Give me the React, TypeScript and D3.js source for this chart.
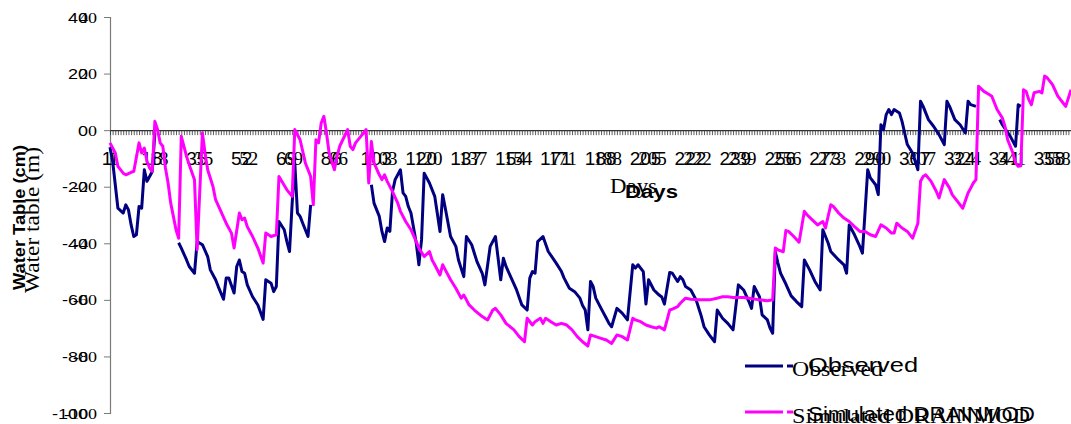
import React, { useEffect, useRef } from "react";
import * as d3 from "d3";

// Observed water table (cm) by day; null marks days without observations
const obsDays = [
  1, 2, 4, 6, 7, 8, 9, 10, 11, 12, 13, 14, 15, 16, 17, 18, 19,
  27, 28, 30, 31, 33, 34, 36, 38, 39, 41, 42, 44, 45, 46, 48, 49, 50, 51, 52, 53, 55, 57, 59,
  60, 62, 63, 64, 65, 67, 68, 69, 70, 71, 72, 73, 74, 76, 77, 78,
  100, 101, 103, 104, 105, 106, 107, 108, 109, 111, 112, 113, 114, 115, 117, 118, 119, 120,
  122, 124, 126, 127, 128, 130, 132, 133, 135, 136, 138, 139, 140, 142, 143, 145, 147, 149,
  150, 151, 153, 155, 157, 159, 160, 161, 162, 163, 165, 167, 170, 172, 173, 175, 177, 179,
  180, 181, 182, 183, 184, 185, 187, 189, 190, 191, 193, 195, 197, 199, 200, 201, 203, 204,
  205, 207, 209, 210, 211, 213, 214, 216, 217, 218, 219, 221, 223, 225, 226, 228, 230, 231,
  233, 235, 237, 239, 241, 243, 244, 245, 247, 248, 250, 251, 252, 253, 254, 255, 257, 259,
  261, 263, 264, 266, 268, 270, 271, 273, 274, 277, 279, 280, 281, 283, 285, 286, 288, 289,
  291, 292, 293, 294, 295, 296, 297, 298, 300, 301, 302, 303, 305, 307, 308, 309, 311, 313,
  315, 317, 318, 319, 321, 323, 325, 326, 327, 329, 330,
  338, 339, 342, 344, 345, 346,
];
const obsValues: (number | null)[] = [
  -6, -11, -27.6, -29.3, -26.4, -28.2, -33.5, -37.6, -37, -27, -27.6, -14, -18.1, -16.4, -14.6, -1, null,
  -39.8, -41.7, -45.9, -48.2, -50.6, -39.4, -40.5, -44.7, -49.4, -52.9, -55.3, -59.8, -52.3, -52.3, -57.6, -48.2, -45.9, -50, -50.6, -54.7, -58.9, -61.8, -66.9,
  -52.9, -54.1, -57.1, -55.3, -32.3, -35.2, -39.4, -42.9, -25.8, -11.6, -29.3, -30.5, -32.9, -37.6, -26.4, null,
  -19.3, -25.8, -30.5, -35.8, -39.4, -34.6, -35.8, -21.7, -17.5, -14, -22.2, -23.4, -27, -29.3, -39.9, -47.6, -38.8, -15.2,
  -18.7, -23.4, -35.8, -22.8, -27.6, -37.6, -41.1, -45.9, -51.8, -37.6, -40.5, -43.5, -46.5, -50.6, -54.7, -41.1, -37.6, -52.9,
  -45.3, -48.2, -52.3, -56.5, -61.8, -63.6, -52.3, -50, -50.6, -39.4, -37.6, -42.9, -47, -50, -52.3, -55.9, -57.1, -59.4,
  -62, -63.6, -70.6, -53.5, -55.3, -59.4, -63, -66.5, -68.3, -69.5, -63, -64.7, -67.1, -47.6, -48.8, -47.6, -50, -61.5,
  -52.9, -56.5, -58.3, -59, -61.5, -50.3, -50.6, -53.5, -51.8, -52.9, -55.3, -56.5, -60, -65.9, -69.5, -72.4, -74.8, -63.6,
  -66.5, -68.3, -70.6, -54.7, -56.5, -60.6, -63, -55.3, -58.9, -65.3, -67.1, -70, -71.8, -43, -47, -50.6, -54.4, -58.6,
  -60.6, -62.4, -45.9, -49.4, -53.5, -56.5, -35.2, -39.9, -42.9, -45.9, -47.6, -50.6, -33.5, -37, -41.1, -43.5, -14, -16.9,
  -19.3, -22.8, 1.9, 0.2, 5.5, 7.3, 5.5, 7.3, 6.1, 3.1, -1, -5.1, -8.1, -14, 10.2, 8.4, 3.7, 1.3,
  -1.6, -5.1, 10.2, 8.4, 3.7, 1.9, -1, 10.2, 9, 8.4, null,
  3.7, 1.9, -2.2, -5.7, 9, 8.4,
];

// DRAINMOD simulated water table (cm) by day
const simDays = [
  1, 3, 4, 6, 7, 9, 10, 12, 13, 14, 15, 16, 17, 18, 19, 20, 21, 22, 23, 24, 25, 26, 27, 28, 29,
  30, 31, 33, 34, 36, 37, 38, 40, 41, 43, 45, 47, 48, 50, 51, 52, 53, 55, 57, 59, 60, 62, 64, 65,
  68, 70, 71, 73, 75, 77, 78, 79, 80, 81, 82, 83, 84, 86, 87, 88, 91, 92, 93, 94, 96, 98, 99,
  100, 101, 103, 104, 105, 106, 108, 110, 111, 113, 115, 117, 118, 120, 122, 123, 124, 126, 127,
  128, 130, 132, 134, 135, 136, 137, 139, 142, 144, 146, 147, 149, 151, 154, 156, 158, 159, 161,
  162, 164, 165, 166, 168, 170, 172, 174, 176, 178, 180, 182, 183, 185, 187, 189, 191, 193, 195,
  197, 199, 200, 202, 204, 206, 208, 209, 211, 213, 214, 216, 217, 219, 221, 224, 228, 231, 233,
  235, 237, 241, 243, 247, 250, 252, 253, 254, 256, 257, 258, 260, 262, 264, 265, 267, 269, 271,
  272, 274, 275, 277, 279, 281, 283, 285, 287, 289, 291, 293, 295, 297, 298, 299, 301, 303, 305,
  307, 308, 309, 310, 312, 314, 315, 317, 319, 320, 322, 324, 326, 327, 328, 329, 330, 332, 334,
  335, 337, 339, 340, 341, 343, 344, 345, 346, 347, 348, 349, 350, 351, 353, 354, 355, 356, 358,
  360, 362, 363, 365,
];
const simValues = [
  -4.5, -8.1, -12.8, -15.2, -15.8, -14.9, -14.6, -4.5, -8.1, -6.3, -11, -13.4, -14.6, 3.1, 0.2, -4.5, -5.7, -13.4, -18.7, -25.8, -30.5, -35.2, -38.2, -2.2, -5.7,
  -9.3, -12.2, -17.5, -42.3, -1, -8.1, -14, -19.9, -24.6, -28.7, -32.9, -36.4, -41.7, -29.3, -31.7, -31.1, -34.1, -37.6, -41.7, -47, -36.4, -37.6, -37, -16.4,
  -21.1, -23.4, 0.2, -3.4, -11.6, -16.4, -26.4, -3.4, -4.5, 2.5, 4.9, -1, -8.1, -14, -9.3, -5.7, 0.2, -5.7, -6.9, -4.5, -2.2, 0.2, -18.7,
  -4, -11.6, -15.8, -17.5, -15.8, -18.1, -21.7, -25.8, -28.7, -32.3, -35.2, -39.4, -41.7, -44.7, -42.9, -45.9, -47.6, -51.2, -47.6,
  -49.4, -52.9, -55.9, -59.4, -58.3, -60, -61.8, -63.6, -65.9, -67.1, -63.6, -63, -65.3, -68.3, -70.6, -73, -74.8, -66.5, -68.9,
  -67.7, -66.5, -68.3, -66.5, -67.7, -68.9, -68.3, -68.9, -70.6, -73, -74.8, -76.3, -72.4, -73, -73.6, -74.2, -75.4, -72.4, -73,
  -74.2, -66.5, -67.1, -67.7, -68.9, -69.5, -70, -69.5, -70.6, -63.6, -63.3, -62.4, -61.2, -59.4, -59.8, -60, -60, -59.4, -58.9,
  -58.9, -59.2, -59.2, -59.4, -60, -60.3, -60, -41.7, -42.3, -43, -35.5, -35.8, -37.6, -39.6, -28.7, -29.9, -31.7, -33.5, -32.3,
  -34.6, -26.4, -27, -29.3, -31.1, -32.3, -34.1, -35.8, -35.8, -37, -37.6, -33.5, -34.6, -36.4, -36.4, -32.9, -34.6, -35.8, -38.2,
  -32.9, -18.1, -16.4, -15.8, -18.1, -21.7, -24, -17.5, -20.5, -22.8, -25.2, -27.6, -22.2, -20.5, -18.7, -17.5, 15.5, 13.7, 12.6,
  12, 7.3, 4.3, 1.3, -3.4, -8.1, -11.6, -12.8, -12.6, 14.3, 13.7, 10.8, 9, 13.2, 13.7, 13.2, 19.1, 18.5, 16.1,
  12, 9.6, 8.4, 14.3,
];

const yTicks = [-100, -80, -60, -40, -20, 0, 20, 40];
const dayLabels = [1, 18, 35, 52, 69, 86, 103, 120, 137, 154, 171, 188, 205, 222, 239, 256, 273, 290, 307, 324, 341, 358];
const seriesNames = ["Observed", "Simulated DRAINMOD"];
const seriesColors = ["#000080", "#FF00FF"];

const W = 1071;
const H = 424;
const SANS = "'Liberation Sans', Arial, sans-serif";
const SERIF = "'Liberation Serif', 'Times New Roman', serif";

type Pt = { d: number; v: number | null };

export default function App() {
  const ref = useRef<SVGSVGElement>(null);

  useEffect(() => {
    document.body.style.margin = "0";
    const svg = d3.select(ref.current);
    svg.selectAll("*").remove();

    const x = d3.scaleLinear().domain([1, 365]).range([110, 1071]);
    const y = d3.scaleLinear().domain([-100, 40]).range([413, 17]);

    // value axis
    const yAxis = svg.append("g").attr("transform", `translate(${x(1)},0)`)
      .call(d3.axisLeft(y).tickValues(yTicks).tickSize(6).tickFormat(() => ""));
    yAxis.select(".domain").attr("stroke", "#7a7a7a").attr("stroke-width", 1.2);
    yAxis.selectAll(".tick line").attr("stroke", "#7a7a7a");

    // day axis across the zero line, one tick per day
    const dayTicks = d3.range(1, 366);
    const xAxis = svg.append("g").attr("transform", `translate(0,${y(0)})`)
      .call(d3.axisBottom(x).tickValues(dayTicks).tickSize(5).tickSizeOuter(0).tickFormat(() => ""));
    xAxis.select(".domain").attr("stroke", "#333").attr("stroke-width", 1.2);
    xAxis.selectAll(".tick line").attr("stroke", "#333").attr("stroke-width", 0.8);

    // y tick labels, sans and serif copies
    const yl = svg.append("g");
    yTicks.forEach((t) => {
      yl.append("text")
        .attr("transform", `translate(88,${y(t) + 5.5}) scale(1.2,1)`)
        .attr("text-anchor", "end").attr("font-family", SANS).attr("font-size", 15)
        .attr("fill", "#000").text(String(t));
      yl.append("text")
        .attr("transform", `translate(97,${y(t) + 5.5}) scale(1.2,1)`)
        .attr("text-anchor", "end").attr("font-family", SERIF).attr("font-size", 15)
        .attr("fill", "#000").text(String(t));
    });

    // day labels, sans and serif copies
    const xl = svg.append("g");
    dayLabels.forEach((d) => {
      xl.append("text").attr("x", x(d) - 3).attr("y", 165)
        .attr("text-anchor", "middle").attr("font-family", SANS).attr("font-size", 19)
        .attr("fill", "#000").text(String(d));
      xl.append("text").attr("x", x(d) + 4).attr("y", 165)
        .attr("text-anchor", "middle").attr("font-family", SERIF).attr("font-size", 19)
        .attr("fill", "#000").text(String(d));
    });

    // axis titles
    svg.append("text").attr("x", 610).attr("y", 193)
      .attr("font-family", SERIF).attr("font-size", 21).attr("textLength", 47)
      .attr("lengthAdjust", "spacingAndGlyphs").text("Days");
    svg.append("text").attr("x", 625).attr("y", 198)
      .attr("font-family", SANS).attr("font-weight", "bold").attr("font-size", 18)
      .attr("textLength", 53).attr("lengthAdjust", "spacingAndGlyphs").text("Days");
    svg.append("text").attr("transform", "translate(25,217.5) rotate(-90)")
      .attr("text-anchor", "middle").attr("font-family", SANS).attr("font-weight", "bold")
      .attr("font-size", 17).attr("textLength", 145).attr("lengthAdjust", "spacingAndGlyphs")
      .text("Water Table (cm)");
    svg.append("text").attr("transform", "translate(39,220) rotate(-90)")
      .attr("text-anchor", "middle").attr("font-family", SERIF)
      .attr("font-size", 21).attr("textLength", 146).attr("lengthAdjust", "spacingAndGlyphs")
      .text("Water table (m)");

    // series
    const line = d3.line<Pt>()
      .defined((p) => p.v !== null)
      .x((p) => x(p.d))
      .y((p) => y(p.v as number));
    const obs: Pt[] = obsDays.map((d, i) => ({ d, v: obsValues[i] }));
    const sim: Pt[] = simDays.map((d, i) => ({ d, v: simValues[i] }));
    [obs, sim].forEach((data, i) => {
      svg.append("path").datum(data).attr("d", line).attr("fill", "none")
        .attr("stroke", seriesColors[i]).attr("stroke-width", 3)
        .attr("stroke-linejoin", "round");
    });

    // legend
    const legendRows = [
      { ly: 366, sansY: 372, serifY: 376, sansLen: 110, serifLen: 91 },
      { ly: 412, sansY: 421, serifY: 423, sansLen: 227, serifLen: 238 },
    ];
    legendRows.forEach((r, i) => {
      svg.append("line").attr("x1", 745).attr("x2", 783).attr("y1", r.ly).attr("y2", r.ly)
        .attr("stroke", seriesColors[i]).attr("stroke-width", 3);
      svg.append("line").attr("x1", 787).attr("x2", 793).attr("y1", r.ly).attr("y2", r.ly)
        .attr("stroke", seriesColors[i]).attr("stroke-width", 3);
      svg.append("text").attr("x", 808).attr("y", r.sansY)
        .attr("font-family", SANS).attr("font-size", 20)
        .attr("textLength", r.sansLen).attr("lengthAdjust", "spacingAndGlyphs")
        .text(seriesNames[i]);
      svg.append("text").attr("x", 792).attr("y", r.serifY)
        .attr("font-family", SERIF).attr("font-size", 22)
        .attr("textLength", r.serifLen).attr("lengthAdjust", "spacingAndGlyphs")
        .text(seriesNames[i]);
    });
  }, []);

  return (
    <div style={{ position: "absolute", left: 0, top: 0 }}>
      <svg ref={ref} width={W} height={H} style={{ display: "block", background: "#fff" }} />
    </div>
  );
}
